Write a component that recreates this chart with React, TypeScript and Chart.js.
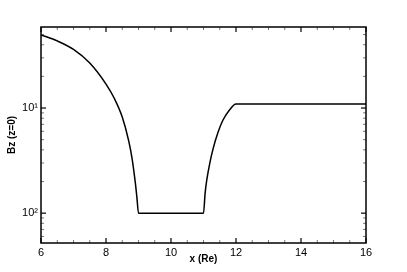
import { useEffect, useRef } from "react";
import { Chart, registerables } from "chart.js";

Chart.register(...registerables);

const xValues = [
  6.0, 6.5, 7.0, 7.5, 8.0, 8.25, 8.5, 8.7, 8.8, 8.9, 8.95, 9.0,
  11.0, 11.05, 11.1, 11.2, 11.3, 11.45, 11.6, 11.8, 12.0, 16.0,
];
const bzValues = [
  0.496, 0.435, 0.361, 0.268, 0.169, 0.1245, 0.0821, 0.0485, 0.0334, 0.0197, 0.0142, 0.01,
  0.01, 0.0155, 0.0206, 0.0306, 0.0416, 0.0591, 0.0769, 0.0957, 0.109, 0.109,
];
const xTicks = [6, 8, 10, 12, 14, 16];
const xMinorTicks = [6.5, 7, 7.5, 8.5, 9, 9.5, 10.5, 11, 11.5, 12.5, 13, 13.5, 14.5, 15, 15.5];
const yTicks = [0.1, 0.01];
const yTickLabels = ["10\u00B9", "10\u00B2"];
const yMinorTicks = [0.006, 0.007, 0.008, 0.009, 0.02, 0.03, 0.04, 0.05, 0.06, 0.07, 0.08, 0.09, 0.2, 0.3, 0.4, 0.5];
const xTitle = "x (Re)";
const yTitle = "Bz (z=0)";

const framePlugin = {
  id: "frame",
  afterDraw(chart: any) {
    const { ctx, chartArea: a, scales } = chart;
    const x = scales.x;
    const y = scales.y;
    ctx.save();
    ctx.strokeStyle = "#000";
    const seg = (x1: number, y1: number, x2: number, y2: number) => {
      ctx.beginPath();
      ctx.moveTo(x1, y1);
      ctx.lineTo(x2, y2);
      ctx.stroke();
    };
    ctx.lineWidth = 1.2;
    xTicks.forEach((v) => {
      const p = x.getPixelForValue(v);
      seg(p, a.bottom, p, a.bottom - 5);
      seg(p, a.top, p, a.top + 5);
    });
    yTicks.forEach((v) => {
      const p = y.getPixelForValue(v);
      seg(a.left, p, a.left + 5, p);
      seg(a.right, p, a.right - 5, p);
    });
    ctx.lineWidth = 0.8;
    ctx.strokeStyle = "#555";
    xMinorTicks.forEach((v) => {
      const p = x.getPixelForValue(v);
      seg(p, a.bottom, p, a.bottom - 3);
      seg(p, a.top, p, a.top + 3);
    });
    yMinorTicks.forEach((v) => {
      const p = y.getPixelForValue(v);
      seg(a.left, p, a.left + 3, p);
      seg(a.right, p, a.right - 3, p);
    });
    ctx.strokeStyle = "#000";
    ctx.lineWidth = 1.5;
    ctx.strokeRect(a.left, a.top, a.right - a.left, a.bottom - a.top);
    ctx.restore();
  },
};

export default function App() {
  const ref = useRef<HTMLCanvasElement | null>(null);
  useEffect(() => {
    if (!ref.current) return;
    const chart = new Chart(ref.current, {
      type: "line",
      data: {
        datasets: [
          {
            data: xValues.map((v, i) => ({ x: v, y: bzValues[i] })),
            borderColor: "#000",
            borderWidth: 1.5,
            pointRadius: 0,
            fill: false,
            cubicInterpolationMode: "monotone",
          },
        ],
      },
      options: {
        animation: false,
        responsive: true,
        maintainAspectRatio: false,
        layout: { padding: { top: 27, right: 41, left: 0, bottom: 0 } },
        plugins: { legend: { display: false }, tooltip: { enabled: false } },
        scales: {
          x: {
            type: "linear",
            min: 6,
            max: 16,
            afterBuildTicks: (s: any) => {
              s.ticks = xTicks.map((v) => ({ value: v }));
            },
            afterFit: (s: any) => {
              s.height = 29;
            },
            grid: { display: false, drawTicks: false },
            border: { display: false },
            ticks: {
              padding: 3,
              color: "#000",
              maxRotation: 0,
              font: { family: "Liberation Sans", size: 11 },
              callback: (v: any) => String(v),
            },
            title: {
              display: true,
              text: xTitle,
              color: "#000",
              font: { family: "Liberation Sans", size: 10, weight: "bold" },
              padding: { top: 0, bottom: 7 },
            },
          },
          y: {
            type: "logarithmic",
            min: 0.0052,
            max: 0.59,
            afterBuildTicks: (s: any) => {
              s.ticks = yTicks.map((v) => ({ value: v }));
            },
            afterFit: (s: any) => {
              s.width = 41;
            },
            grid: { display: false, drawTicks: false },
            border: { display: false },
            ticks: {
              padding: 3,
              color: "#000",
              font: { family: "Liberation Sans", size: 11 },
              callback: (v: any) => {
                const i = yTicks.findIndex((t) => Math.abs(t - Number(v)) < 1e-9);
                return i >= 0 ? yTickLabels[i] : "";
              },
            },
            title: {
              display: true,
              text: yTitle,
              color: "#000",
              font: { family: "Liberation Sans", size: 10, weight: "bold" },
              padding: { top: 6, bottom: 0 },
            },
          },
        },
      },
      plugins: [framePlugin],
    } as any);
    return () => chart.destroy();
  }, []);
  return (
    <div style={{ position: "fixed", left: 0, top: 0, width: 407, height: 272 }}>
      <canvas ref={ref} />
    </div>
  );
}
